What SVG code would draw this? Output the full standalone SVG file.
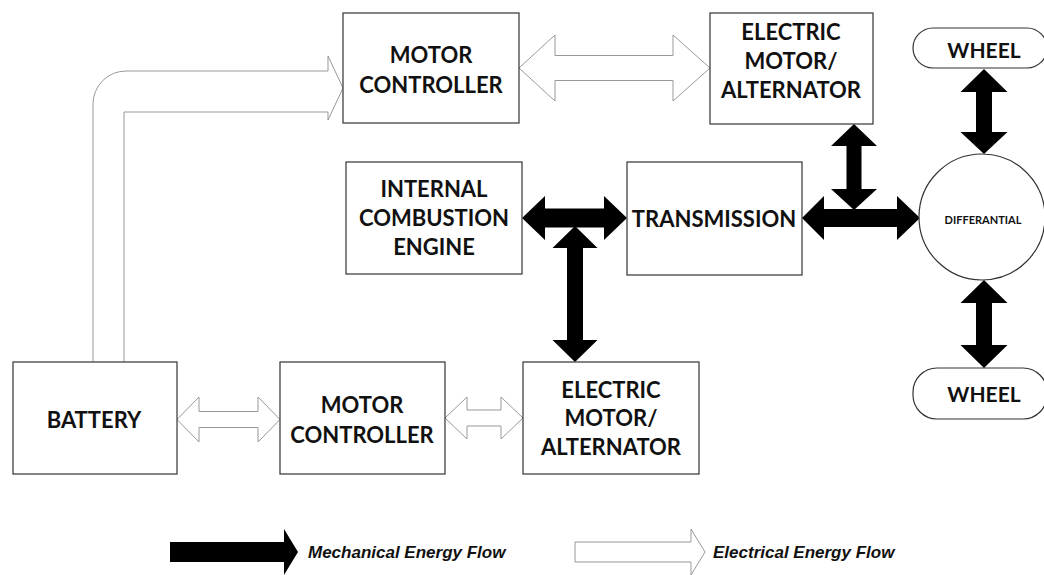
<svg xmlns="http://www.w3.org/2000/svg" width="1044" height="575" viewBox="0 0 1044 575">
<style>
.box{fill:#fff;stroke:#333;stroke-width:1.2}
.lbl{font-family:Lato,"Liberation Sans",sans-serif;font-weight:bold;font-size:22px;text-anchor:middle;dominant-baseline:central;fill:#111}
.mech{fill:#000}
.elec{fill:#fff;stroke:#999;stroke-width:1}
.leg{font-family:"Liberation Sans",Arial,sans-serif;font-weight:bold;font-style:italic;font-size:17px;fill:#111}
</style>
<rect width="1044" height="575" fill="#fff"/>
<g id="connectors">
<path class="elec" d="M93,362 V104 A33,33 0 0 1 126,71 H328 V56 L343,88 L328,120 V112 H124 V362"/>
<polygon class="elec" points="519,68 555,35 555,55.5 673,55.5 673,35 710,68 673,101 673,80.5 555,80.5 555,101"/>
<polygon class="elec" points="177,419.5 199,397 199,411.5 258,411.5 258,397 280,419.5 258,442 258,427.5 199,427.5 199,442"/>
<polygon class="elec" points="445,418 467,397 467,410 501,410 501,397 523,418 501,439 501,426 467,426 467,439"/>
<polygon class="mech" points="522,218 545,196 545,208.5 604,208.5 604,196 627,218 604,240 604,227.5 545,227.5 545,240"/>
<polygon class="mech" points="575,226 597.5,248 583,248 583,340 597.5,340 575,362 552.5,340 567,340 567,248 552.5,248"/>
<polygon class="mech" points="854,124 877,146 861.5,146 861.5,189 877,189 854,210 831,189 846.5,189 846.5,146 831,146"/>
<polygon class="mech" points="802,218 824,196 824,209 897,209 897,196 920,218 897,240 897,227 824,227 824,240"/>
<polygon class="mech" points="984,69 1007.5,92 992,92 992,132 1007.5,132 984,154 960.5,132 976,132 976,92 960.5,92"/>
<polygon class="mech" points="984,280 1007.5,303 992,303 992,345 1007.5,345 984,368 960.5,345 976,345 976,303 960.5,303"/>
</g>
<g id="motor-controller-top">
<rect class="box" x="343" y="13" width="176" height="110"/>
<text class="lbl" x="431" y="54">MOTOR</text>
<text class="lbl" x="431" y="84">CONTROLLER</text>
</g>
<g id="electric-motor-top">
<rect class="box" x="710" y="13" width="163" height="111"/>
<text class="lbl" x="791" y="31">ELECTRIC</text>
<text class="lbl" x="791" y="60">MOTOR/</text>
<text class="lbl" x="791" y="89">ALTERNATOR</text>
</g>
<g id="ice">
<rect class="box" x="346" y="162" width="176" height="112"/>
<text class="lbl" x="434" y="188">INTERNAL</text>
<text class="lbl" x="434" y="217">COMBUSTION</text>
<text class="lbl" x="434" y="246">ENGINE</text>
</g>
<g id="transmission">
<rect class="box" x="627" y="162" width="175" height="113"/>
<text class="lbl" x="714" y="218">TRANSMISSION</text>
</g>
<g id="differential">
<circle class="box" cx="982" cy="217" r="63"/>
<text class="lbl" x="983" y="219" style="font-size:11px">DIFFERANTIAL</text>
</g>
<g id="wheel-top">
<rect class="box" x="913" y="28" width="134" height="40" rx="20"/>
<text class="lbl" x="984" y="49" style="font-size:21px">WHEEL</text>
</g>
<g id="wheel-bottom">
<rect class="box" x="913" y="368" width="134" height="51" rx="24"/>
<text class="lbl" x="984" y="393" style="font-size:21px">WHEEL</text>
</g>
<g id="battery">
<rect class="box" x="13" y="362" width="164" height="112"/>
<text class="lbl" x="94" y="419">BATTERY</text>
</g>
<g id="motor-controller-bottom">
<rect class="box" x="280" y="362" width="165" height="112"/>
<text class="lbl" x="362" y="404">MOTOR</text>
<text class="lbl" x="362" y="434">CONTROLLER</text>
</g>
<g id="electric-motor-bottom">
<rect class="box" x="523" y="362" width="176" height="112"/>
<text class="lbl" x="611" y="389">ELECTRIC</text>
<text class="lbl" x="611" y="417">MOTOR/</text>
<text class="lbl" x="611" y="446">ALTERNATOR</text>
</g>
<g id="legend">
<path class="mech" d="M170,542 H284 V529 L298,552 L284,575 V562 H170 Z"/>
<text class="leg" x="308" y="558">Mechanical Energy Flow</text>
<path class="elec" d="M575,542 H691 V529 L705,552 L691,575 V562 H575 Z"/>
<text class="leg" x="713" y="558">Electrical Energy Flow</text>
</g>
</svg>
